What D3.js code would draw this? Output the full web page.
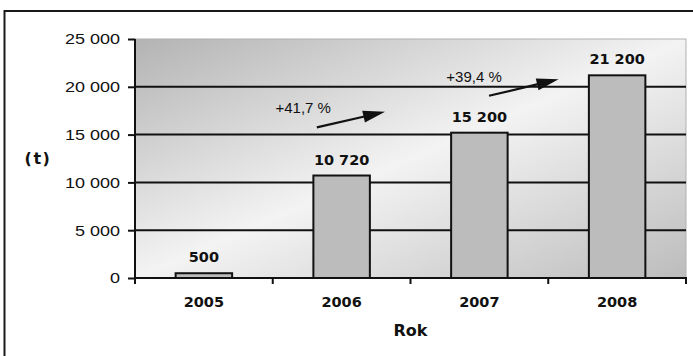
<!DOCTYPE html>
<html>
<head>
<meta charset="utf-8">
<script src="https://cdn.jsdelivr.net/npm/d3@7"></script>
<style>
  html, body { margin: 0; padding: 0; background: #fff; }
  svg { display: block; }
</style>
</head>
<body>
<svg id="chart" width="693" height="356"></svg>
<script>
// Production by year (tonnes)
const years = ["2005", "2006", "2007", "2008"];
const tonnes = [500, 10720, 15200, 21200];
const yTicks = [0, 5000, 10000, 15000, 20000, 25000];

// Year-on-year growth annotations: label text plus arrow endpoints
// (x in category-index units, y in tonnes)
const growthLabels = ["+41,7 %", "+39,4 %"];
const labelAt = [[0.52, 17250], [1.76, 20550]];
const arrowFrom = [[0.82, 15750], [2.07, 19060]];
const arrowTo = [[1.315, 17390], [2.575, 20780]];

const W = 693, H = 356;
const plot = { left: 135, right: 686, top: 39, bottom: 278 };

const svg = d3.select("#chart");
const fmt = d3.formatLocale({ decimal: ",", thousands: " ", grouping: [3], currency: ["", ""] }).format(",d");

const x = d3.scaleBand().domain(years).range([plot.left, plot.right])
  .paddingInner(0.59).paddingOuter(0.295);
const xi = d3.scaleLinear().domain([-0.5, years.length - 0.5]).range([plot.left, plot.right]);
const y = d3.scaleLinear().domain([0, 25000]).range([plot.bottom, plot.top]);

// Outer frame
svg.append("rect")
  .attr("x", 4.5).attr("y", 11).attr("width", W + 20).attr("height", H + 20)
  .attr("fill", "#fff").attr("stroke", "#1a1a1a").attr("stroke-width", 2);

// Plot background with diagonal grey gradient
const defs = svg.append("defs");
const grad = defs.append("linearGradient").attr("id", "bg")
  .attr("x1", 0).attr("y1", 0).attr("x2", 1).attr("y2", 1);
grad.append("stop").attr("offset", 0).attr("stop-color", "#b3b3b3");
grad.append("stop").attr("offset", 0.5).attr("stop-color", "#f3f3f3");
grad.append("stop").attr("offset", 1).attr("stop-color", "#bcbcbc");

svg.append("rect")
  .attr("x", plot.left).attr("y", plot.top)
  .attr("width", plot.right - plot.left).attr("height", plot.bottom - plot.top)
  .attr("fill", "url(#bg)").attr("stroke", "#b0b0b0").attr("stroke-width", 1);

// Horizontal gridlines
svg.append("g").selectAll("line")
  .data(yTicks.filter(v => v > 0 && v < 25000))
  .join("line")
  .attr("x1", plot.left).attr("x2", plot.right)
  .attr("y1", d => y(d)).attr("y2", d => y(d))
  .attr("stroke", "#111").attr("stroke-width", 2);

// Bars
svg.append("g").selectAll("rect")
  .data(years.map((yr, i) => ({ yr, v: tonnes[i] })))
  .join("rect")
  .attr("x", d => x(d.yr)).attr("width", x.bandwidth())
  .attr("y", d => y(d.v)).attr("height", d => y(0) - y(d.v))
  .attr("fill", "#bcbcbc").attr("stroke", "#111").attr("stroke-width", 2);

// Value labels above bars
svg.append("g").selectAll("text")
  .data(years.map((yr, i) => ({ yr, v: tonnes[i] })))
  .join("text")
  .attr("x", d => x(d.yr) + x.bandwidth() / 2)
  .attr("y", d => y(d.v) - 11)
  .attr("text-anchor", "middle")
  .attr("font-family", "DejaVu Sans").attr("font-weight", "bold").attr("font-size", 14.5)
  .attr("fill", "#111")
  .text(d => fmt(d.v));

// Y axis
const yAxis = svg.append("g")
  .attr("transform", `translate(${plot.left},0)`)
  .call(d3.axisLeft(y).tickValues(yTicks).tickSize(7).tickPadding(8).tickSizeOuter(0).tickFormat(fmt));
yAxis.select(".domain").remove();
yAxis.selectAll(".tick line").attr("stroke", "#111").attr("stroke-width", 2);
yAxis.selectAll(".tick text")
  .attr("font-family", "Liberation Sans, Arial, sans-serif").attr("font-size", 15)
  .attr("fill", "#111")
  .attr("x", -15 / 1.2)
  .attr("transform", "scale(1.2,1)");

svg.append("line")
  .attr("x1", plot.left).attr("x2", plot.left)
  .attr("y1", plot.top).attr("y2", plot.bottom + 6)
  .attr("stroke", "#111").attr("stroke-width", 2);

// X axis line, category boundary ticks, and year labels
svg.append("line")
  .attr("x1", plot.left).attr("x2", plot.right + 1)
  .attr("y1", y(0)).attr("y2", y(0))
  .attr("stroke", "#111").attr("stroke-width", 2);

svg.append("g").selectAll("line")
  .data(d3.range(years.length + 1))
  .join("line")
  .attr("x1", i => plot.left + i * x.step()).attr("x2", i => plot.left + i * x.step())
  .attr("y1", y(0)).attr("y2", y(0) + 6)
  .attr("stroke", "#111").attr("stroke-width", 2);

svg.append("g").selectAll("text")
  .data(years)
  .join("text")
  .attr("x", d => x(d) + x.bandwidth() / 2)
  .attr("y", 306.5)
  .attr("text-anchor", "middle")
  .attr("font-family", "DejaVu Sans").attr("font-weight", "bold").attr("font-size", 14.5)
  .attr("fill", "#111")
  .text(d => d);

// Axis titles
svg.append("text")
  .attr("x", (plot.left + plot.right) / 2).attr("y", 336)
  .attr("text-anchor", "middle")
  .attr("font-family", "DejaVu Sans").attr("font-weight", "bold").attr("font-size", 16)
  .attr("fill", "#111")
  .text("Rok");

svg.append("text")
  .attr("x", 38).attr("y", 164)
  .attr("text-anchor", "middle")
  .attr("font-family", "DejaVu Sans").attr("font-weight", "bold").attr("font-size", 16)
  .attr("letter-spacing", 1.5)
  .attr("fill", "#111")
  .text("(t)");

// Growth annotations
const ann = svg.append("g");
growthLabels.forEach((lbl, i) => {
  ann.append("text")
    .attr("x", xi(labelAt[i][0])).attr("y", y(labelAt[i][1]))
    .attr("font-family", "Liberation Sans, Arial, sans-serif").attr("font-size", 15)
    .attr("fill", "#111")
    .text(lbl);

  const x1 = xi(arrowFrom[i][0]), y1 = y(arrowFrom[i][1]);
  const x2 = xi(arrowTo[i][0]), y2 = y(arrowTo[i][1]);
  const ang = Math.atan2(y2 - y1, x2 - x1);
  const len = 22, half = 6;
  const bx = x2 - len * Math.cos(ang), by = y2 - len * Math.sin(ang);
  ann.append("line")
    .attr("x1", x1).attr("y1", y1).attr("x2", bx + 2 * Math.cos(ang)).attr("y2", by + 2 * Math.sin(ang))
    .attr("stroke", "#111").attr("stroke-width", 2.2);
  ann.append("path")
    .attr("d", `M${x2},${y2}L${bx - half * Math.sin(ang)},${by + half * Math.cos(ang)}L${bx + half * Math.sin(ang)},${by - half * Math.cos(ang)}Z`)
    .attr("fill", "#111");
});
</script>
</body>
</html>
